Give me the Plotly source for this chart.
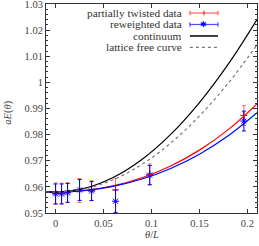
import plotly.graph_objects as go

# data points
x_pts = [0.0, 0.00625, 0.0125, 0.025, 0.0375, 0.0625, 0.0982, 0.1963]
red_y = [0.9574, 0.9574, 0.9578, 0.9586, 0.9585, 0.9588, 0.9648, 0.9873]
red_err = [0.0041, 0.0040, 0.0038, 0.0046, 0.0038, 0.0045, 0.0040, 0.0038]
blue_y = [0.9573, 0.9573, 0.9577, 0.9588, 0.9584, 0.9545, 0.9645, 0.9852]
blue_err = [0.0038, 0.0038, 0.0036, 0.0040, 0.0036, 0.0043, 0.0037, 0.0038]

# curves (sampled)
x_curve = [-0.01, 0.0, 0.03, 0.06, 0.09, 0.12, 0.15, 0.18, 0.21]
red_fit = [0.958066, 0.958, 0.958596, 0.960407, 0.963504, 0.968002, 0.974065, 0.981903, 0.991774]
blue_fit = [0.95806, 0.958, 0.958542, 0.960186, 0.962991, 0.967055, 0.972513, 0.979540, 0.988350]
continuum = [0.958155, 0.958, 0.959394, 0.963564, 0.970475, 0.980068, 0.992264, 1.006972, 1.024081]
lattice_free = [0.958132, 0.958, 0.959185, 0.962724, 0.968595, 0.976756, 0.98715, 0.999706, 1.014345]

y_ticks = [0.95, 0.96, 0.97, 0.98, 0.99, 1.0, 1.01, 1.02, 1.03]
y_tick_text = ["0.95", "0.96", "0.97", "0.98", "0.99", "1", "1.01", "1.02", "1.03"]
x_ticks = [0, 0.05, 0.1, 0.15, 0.2]
x_tick_text = ["0", "0.05", "0.1", "0.15", "0.2"]

legend_labels = ["partially twisted data", "reweighted data", "continuum", "lattice free curve"]

RED = "#ff0000"
BLUE = "#0000ff"
FONT = "Liberation Serif"

fig = go.Figure()

fig.add_trace(go.Scatter(
    x=x_pts, y=red_y, mode="markers",
    error_y=dict(type="data", array=red_err, color="rgba(255,60,60,0.75)", thickness=1, width=2),
    marker=dict(symbol="cross-thin-open", size=5, line=dict(color=RED, width=1), color=RED),
    showlegend=False))
fig.add_trace(go.Scatter(
    x=x_pts, y=blue_y, mode="markers",
    error_y=dict(type="data", array=blue_err, color=BLUE, thickness=1, width=2),
    marker=dict(symbol="asterisk-open", size=6, line=dict(color=BLUE, width=1), color=BLUE),
    showlegend=False))

fig.add_trace(go.Scatter(x=x_curve, y=red_fit, mode="lines", line=dict(color=RED, width=1.2, shape="spline"), showlegend=False))
fig.add_trace(go.Scatter(x=x_curve, y=blue_fit, mode="lines", line=dict(color=BLUE, width=1.2, shape="spline"), showlegend=False))
fig.add_trace(go.Scatter(x=x_curve, y=continuum, mode="lines", line=dict(color="black", width=1.2, shape="spline"), showlegend=False))
fig.add_trace(go.Scatter(x=x_curve, y=lattice_free, mode="lines", line=dict(color="#777777", width=1.2, dash="dot", shape="spline"), showlegend=False))

# legend (gnuplot style: text left, sample right)
rows = [0.957, 0.902, 0.847, 0.792]
x0, x1, xt = 0.682, 0.815, 0.654
annotations = []
shapes = []
for lab, yy in zip(legend_labels, rows):
    annotations.append(dict(x=xt, y=yy, xref="paper", yref="paper", text=lab, showarrow=False,
                            xanchor="right", yanchor="middle", font=dict(family=FONT, size=11.3, color="#333")))
cap = 0.011
for yy, col in [(rows[0], "rgba(255,60,60,0.8)"), (rows[1], "rgba(60,60,255,0.9)")]:
    shapes.append(dict(type="line", xref="paper", yref="paper", x0=x0, x1=x1, y0=yy, y1=yy, line=dict(color=col, width=1.2)))
    for xc in (x0, x1):
        shapes.append(dict(type="line", xref="paper", yref="paper", x0=xc, x1=xc, y0=yy - cap, y1=yy + cap, line=dict(color=col, width=1.2)))
xm = (x0 + x1) / 2
shapes.append(dict(type="line", xref="paper", yref="paper", x0=xm, x1=xm, y0=rows[0] - cap, y1=rows[0] + cap, line=dict(color=RED, width=1)))
annotations.append(dict(x=xm, y=rows[1], xref="paper", yref="paper", text="✱", showarrow=False,
                        xanchor="center", yanchor="middle", font=dict(family="DejaVu Sans", size=8, color=BLUE)))
shapes.append(dict(type="line", xref="paper", yref="paper", x0=x0, x1=x1, y0=rows[2], y1=rows[2], line=dict(color="black", width=1.5)))
shapes.append(dict(type="line", xref="paper", yref="paper", x0=x0, x1=x1, y0=rows[3], y1=rows[3], line=dict(color="#777777", width=1.2, dash="dot")))

# axis titles
annotations.append(dict(x=0.5, y=-0.105, xref="paper", yref="paper", text="<i>θ</i>/<i>L</i>", showarrow=False,
                        xanchor="center", yanchor="middle", font=dict(family=FONT, size=10.5, color="#444")))
annotations.append(dict(x=-0.18, y=0.48, xref="paper", yref="paper", text="<i>aE</i>(<i>θ</i>)", showarrow=False,
                        textangle=-90, xanchor="center", yanchor="middle", font=dict(family=FONT, size=10.5, color="#444")))

axis_common = dict(showline=True, linecolor="#333", linewidth=1, mirror="allticks", ticks="inside",
                   ticklen=4, tickcolor="#333", showgrid=False, zeroline=False, automargin=False,
                   ticklabeloverflow="allow",
                   tickfont=dict(family=FONT, size=10.5, color="#444"))

fig.update_layout(
    width=259, height=246,
    margin=dict(l=46, r=2, t=4, b=33),
    paper_bgcolor="white", plot_bgcolor="white",
    xaxis=dict(range=[-0.01, 0.21], tickvals=x_ticks, ticktext=x_tick_text, **axis_common),
    yaxis=dict(range=[0.94999, 1.03001], tickvals=y_ticks, ticktext=y_tick_text,
               minor=dict(tickvals=[round(0.95 + 0.002 * i, 3) for i in range(41)], ticks="inside", ticklen=2, tickcolor="#333"),
               **axis_common),
    annotations=annotations, shapes=shapes,
    showlegend=False,
)

fig.write_html("out.html", config={"displayModeBar": False},
               post_script="document.body.style.margin='0';document.body.style.overflow='hidden';")
